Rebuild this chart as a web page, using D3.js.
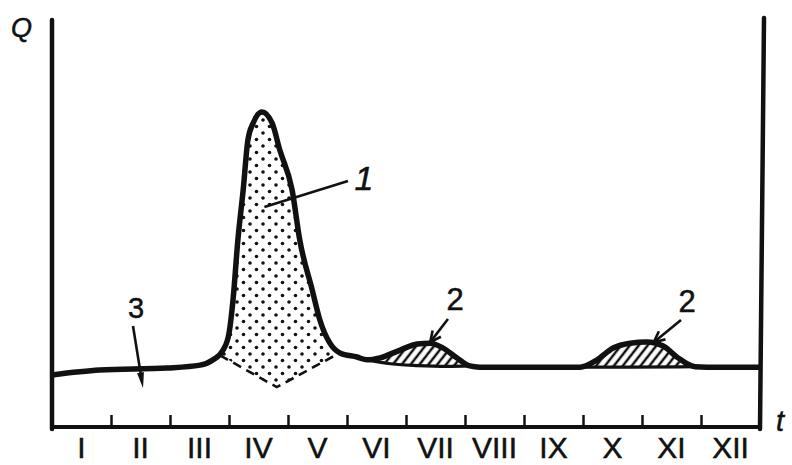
<!DOCTYPE html>
<html>
<head>
<meta charset="utf-8">
<script src="https://cdn.jsdelivr.net/npm/d3@7"></script>
<style>
  html, body { margin: 0; padding: 0; background: #fff; }
  svg { display: block; }
  text { font-family: "Liberation Sans", Arial, sans-serif; fill: #111; stroke: #111; stroke-width: 0.5; }
</style>
</head>
<body>
<svg id="chart" width="792" height="465"></svg>
<script>
// ---- data (t in months from start of January, Q in relative units 0..100) ----
const months = ["I","II","III","IV","V","VI","VII","VIII","IX","X","XI","XII"];
const flowT = [0, 0.81, 1.95, 2.51, 2.73, 2.90, 3.00, 3.07, 3.15, 3.24, 3.32, 3.41, 3.56, 3.73, 3.86, 4.07, 4.20, 4.41, 4.54, 4.71, 4.88, 5.17, 5.34, 5.56, 5.90, 6.19, 6.41, 6.63, 6.86, 7.08, 7.25, 8.95, 9.24, 9.51, 9.80, 10.08, 10.36, 10.59, 10.90, 11.10, 12];
const flowQ = [12.8, 14.0, 14.5, 15.2, 16.5, 18.9, 23.0, 31.5, 45.9, 58.2, 70.5, 74.7, 77.4, 74.7, 68.1, 58.2, 45.9, 33.7, 26.3, 20.6, 18.2, 17.2, 16.5, 17.0, 18.9, 20.4, 20.6, 19.4, 17.0, 15.0, 14.7, 14.7, 16.5, 19.4, 20.6, 20.9, 19.9, 17.2, 14.8, 14.7, 14.7];
// base flow under the rain floods (2)
const base1T = [5.34, 5.70, 6.20, 6.70, 7.08];
const base1Q = [16.5, 15.6, 15.1, 14.9, 15.0];
const base2T = [8.95, 9.80, 10.90];
const base2Q = [14.7, 14.7, 14.8];
// base flow under the spring flood (dashed)
const dashT = [2.85, 3.81, 4.85];
const dashQ = [17.6, 9.8, 18.0];

// ---- layout ----
const svg = d3.select("#chart");
const x = d3.scaleLinear().domain([0, 12]).range([52, 760]);
const y = d3.scaleLinear().domain([0, 100]).range([427, 20]);
const xb = d3.scaleBand().domain(months).range([52, 760]);

const defs = svg.append("defs");
const dots = defs.append("pattern").attr("id", "dots")
  .attr("patternUnits", "userSpaceOnUse").attr("width", 13).attr("height", 13);
dots.append("circle").attr("cx", 3).attr("cy", 3).attr("r", 1.8).attr("fill", "#111");
dots.append("circle").attr("cx", 9.5).attr("cy", 9.5).attr("r", 1.8).attr("fill", "#111");
const hatch = defs.append("pattern").attr("id", "hatch")
  .attr("patternUnits", "userSpaceOnUse").attr("width", 7).attr("height", 10)
  .attr("patternTransform", "rotate(38)");
hatch.append("line").attr("x1", 2).attr("y1", 0).attr("x2", 2).attr("y2", 10)
  .attr("stroke", "#111").attr("stroke-width", 2.5);

const pts = (T, Q) => T.map((t, i) => [t, Q[i]]);
const flow = pts(flowT, flowQ);
const curve = d3.line().x(d => x(d[0])).y(d => y(d[1])).curve(d3.curveMonotoneX);
const straight = d3.line().x(d => x(d[0])).y(d => y(d[1]));

// spring flood (1) dotted fill
const dash = pts(dashT, dashQ);
const springTop = [dash[0], ...flow.filter(d => d[0] > dashT[0] && d[0] < dashT[2]), dash[2]];
svg.append("path")
  .attr("d", curve(springTop) + dash.slice().reverse().map(d => "L" + x(d[0]) + "," + y(d[1])).join("") + "Z")
  .attr("fill", "url(#dots)");

// rain floods (2) hatched fill
const b1 = pts(base1T, base1Q), b2 = pts(base2T, base2Q);
[b1, b2].forEach(b => {
  const t0 = b[0][0], t1 = b[b.length - 1][0];
  const top = flow.filter(d => d[0] >= t0 && d[0] <= t1);
  const p = curve(top) + b.slice().reverse().map(d => "L" + x(d[0]) + "," + y(d[1])).join("") + "Z";
  svg.append("path").attr("d", p).attr("fill", "url(#hatch)");
  svg.append("path").attr("d", curve(b)).attr("fill", "none")
    .attr("stroke", "#111").attr("stroke-width", 3.2);
});

// dashed base line under spring flood
svg.append("path").attr("d", straight(dash)).attr("fill", "none")
  .attr("stroke", "#111").attr("stroke-width", 2.6).attr("stroke-dasharray", "9,6");

// hydrograph
svg.append("path").attr("d", curve(flow)).attr("fill", "none")
  .attr("stroke", "#111").attr("stroke-width", 5.5).attr("stroke-linejoin", "round");

// axes
const axB = svg.append("g").attr("transform", `translate(0,${y(0)})`)
  .call(d3.axisBottom(x).tickValues(d3.range(1, 12)).tickSize(-12).tickFormat(""));
axB.select(".domain").remove();
axB.selectAll(".tick line").attr("stroke", "#111").attr("stroke-width", 2.5);
svg.append("line").attr("x1", x(0)).attr("x2", x(12) + 2).attr("y1", y(0)).attr("y2", y(0))
  .attr("stroke", "#111").attr("stroke-width", 4);
svg.append("line").attr("x1", x(0)).attr("x2", x(0)).attr("y1", y(0) + 2).attr("y2", y(100))
  .attr("stroke", "#111").attr("stroke-width", 4.5).attr("stroke-linecap", "round");
svg.append("line").attr("x1", x(12)).attr("x2", x(12) + 4).attr("y1", y(0) + 2).attr("y2", y(100) - 2)
  .attr("stroke", "#111").attr("stroke-width", 4.5).attr("stroke-linecap", "round");

const axL = svg.append("g").attr("transform", "translate(0,458)")
  .call(d3.axisBottom(xb).tickSize(0).tickPadding(0));
axL.select(".domain").remove();
axL.selectAll("text").attr("dy", 0).attr("font-size", 30)
  .attr("font-family", "Liberation Sans, Arial, sans-serif").attr("fill", "#111")
  .attr("stroke", "#111").attr("stroke-width", 0.6);

// axis titles
svg.append("text").attr("x", 11).attr("y", 37).attr("font-size", 27)
  .attr("font-style", "italic").text("Q");
svg.append("text").attr("x", 776).attr("y", 431).attr("font-size", 29)
  .attr("font-style", "italic").text("t");

// annotations
function arrowOpen(x1, y1, x2, y2, w) {
  const a = Math.atan2(y2 - y1, x2 - x1), L = 12, s = 0.45;
  svg.append("line").attr("x1", x1).attr("y1", y1).attr("x2", x2).attr("y2", y2)
    .attr("stroke", "#111").attr("stroke-width", w);
  svg.append("path")
    .attr("d", `M${x2 - L * Math.cos(a - s)},${y2 - L * Math.sin(a - s)}L${x2},${y2}L${x2 - L * Math.cos(a + s)},${y2 - L * Math.sin(a + s)}`)
    .attr("fill", "none").attr("stroke", "#111").attr("stroke-width", w);
}
function arrowSolid(x1, y1, x2, y2, w) {
  const a = Math.atan2(y2 - y1, x2 - x1), L = 16, s = 0.22;
  svg.append("line").attr("x1", x1).attr("y1", y1).attr("x2", x2 - 8 * Math.cos(a)).attr("y2", y2 - 8 * Math.sin(a))
    .attr("stroke", "#111").attr("stroke-width", w);
  svg.append("path")
    .attr("d", `M${x2 - L * Math.cos(a - s)},${y2 - L * Math.sin(a - s)}L${x2},${y2}L${x2 - L * Math.cos(a + s)},${y2 - L * Math.sin(a + s)}Z`)
    .attr("fill", "#111");
}

// 1 – spring flood
svg.append("line").attr("x1", x(3.6)).attr("y1", 207).attr("x2", 348).attr("y2", 181)
  .attr("stroke", "#111").attr("stroke-width", 2.6);
svg.append("text").attr("x", 364).attr("y", 190).attr("font-size", 34).attr("font-style", "italic")
  .attr("text-anchor", "middle").text("1");
// 2 – rain floods
svg.append("text").attr("x", 455).attr("y", 310).attr("font-size", 31).attr("text-anchor", "middle").text("2");
arrowOpen(448, 319, x(6.41), y(20.6) - 1, 2.6);
svg.append("text").attr("x", 687).attr("y", 312).attr("font-size", 31).attr("text-anchor", "middle").text("2");
arrowOpen(681, 320, x(10.2), y(20.6) - 1, 2.6);
// 3 – base flow
svg.append("text").attr("x", 136).attr("y", 318).attr("font-size", 29).attr("text-anchor", "middle").text("3");
arrowSolid(133, 326, 143, 388, 2.6);
</script>
</body>
</html>
